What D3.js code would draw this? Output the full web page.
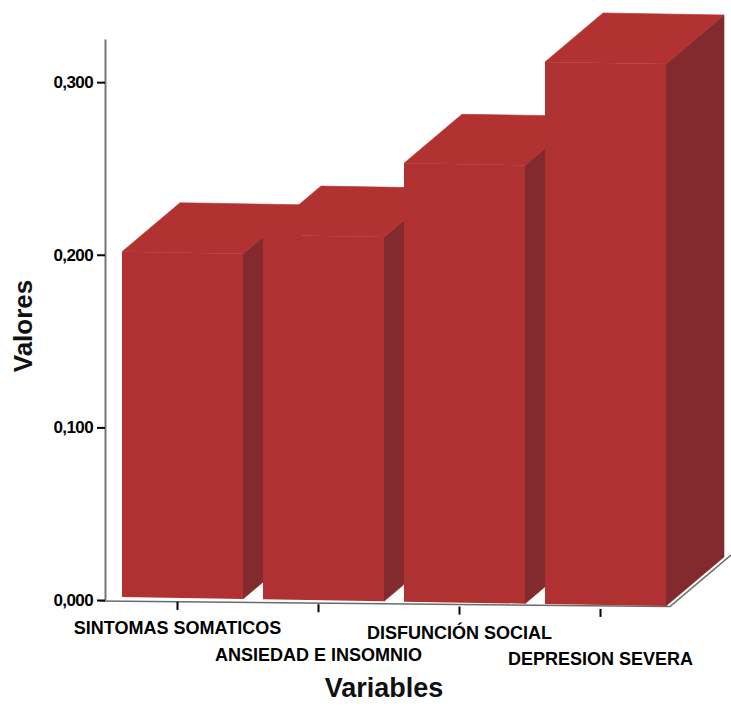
<!DOCTYPE html>
<html><head><meta charset="utf-8">
<script src="https://cdn.jsdelivr.net/npm/d3@7"></script>
<style>body{margin:0;background:#fff}</style></head>
<body><svg id="c" width="731" height="706"></svg>
<script>
// ---- data ----
const categories = ["SINTOMAS SOMATICOS", "ANSIEDAD E INSOMNIO", "DISFUNCIÓN SOCIAL", "DEPRESION SEVERA"];
const values = [0.200, 0.211, 0.254, 0.314];
const yTicks = [0, 0.1, 0.2, 0.3];
const yTitle = "Valores";
const xTitle = "Variables";

// ---- layout ----
const svg = d3.select("#c");
const font = "'Liberation Sans', Arial, sans-serif";
const FRONT = "#b03131", TOP = "#b23232", SIDE = "#822a2d";
const depthX = 58, depthY = -49;

const x = d3.scaleBand().domain(categories).range([122, 666]).paddingInner(20 / 141).paddingOuter(0);
const y = d3.scaleLinear().domain([0, 0.325]).range([600, 39]);
const tilt = 0.0165;
const floorY = px => y(0) - 3 + (px - 122) * tilt;

// floor line
const floorPts = [[100, y(0) + 1], [670, floorY(670) + 0.5], [731, floorY(670) - 51]];
svg.append("path").attr("d", d3.line()(floorPts)).attr("fill", "none")
  .attr("stroke", "#6a6a6a").attr("stroke-width", 1.6);

// bars
const data = categories.map((c, i) => ({ c, v: values[i] }));
data.forEach(d => {
  const x0 = x(d.c), x1 = x0 + x.bandwidth();
  const b0 = floorY(x0), b1 = floorY(x1);
  const h = y(0) - y(d.v);
  const t0 = b0 - h, t1 = b1 - h;
  const g = svg.append("g");
  // side
  g.append("path").attr("fill", SIDE).attr("stroke", SIDE).attr("stroke-width", 0.6).attr("d", d3.line()([
    [x1, t1], [x1 + depthX, t1 + depthY], [x1 + depthX, b1 + depthY], [x1, b1]
  ]) + "Z");
  // top
  g.append("path").attr("fill", TOP).attr("stroke", TOP).attr("stroke-width", 0.6).attr("d", d3.line()([
    [x0, t0], [x0 + depthX, t0 + depthY], [x1 + depthX, t1 + depthY], [x1, t1]
  ]) + "Z");
  // front
  g.append("path").attr("fill", FRONT).attr("d", d3.line()([
    [x0, t0], [x1, t1], [x1, b1], [x0, b0]
  ]) + "Z");
});

// y axis
const yAxis = svg.append("g").attr("transform", "translate(105,0)")
  .call(d3.axisLeft(y).tickValues(yTicks).tickSize(8).tickSizeOuter(0).tickPadding(4)
    .tickFormat(d => d.toFixed(3).replace(".", ",")));
yAxis.select(".domain").attr("stroke", "#777").attr("stroke-width", 2);
yAxis.selectAll(".tick line").attr("stroke", "#000").attr("stroke-width", 2);
yAxis.selectAll(".tick text").attr("font-family", font).attr("font-size", 17)
  .attr("font-weight", "bold").attr("fill", "#000").attr("letter-spacing", -0.6);

// x ticks and labels
data.forEach((d, i) => {
  const cx = x(d.c) + x.bandwidth() / 2 - 5;
  const fy = floorY(cx);
  svg.append("line").attr("x1", cx).attr("x2", cx).attr("y1", fy + 4).attr("y2", fy + 12)
    .attr("stroke", "#000").attr("stroke-width", 2);
  svg.append("text").attr("x", cx).attr("y", fy + (i % 2 === 0 ? 36.5 : 60.5))
    .attr("text-anchor", "middle").attr("font-family", font).attr("font-size", 18)
    .attr("font-weight", "bold").attr("fill", "#000").text(d.c);
});

// titles
svg.append("text").attr("transform", "translate(32,326) rotate(-90)")
  .attr("text-anchor", "middle").attr("font-family", font).attr("font-size", 26)
  .attr("font-weight", "bold").attr("fill", "#111").text(yTitle);
svg.append("text").attr("x", 384).attr("y", 697)
  .attr("text-anchor", "middle").attr("font-family", font).attr("font-size", 27)
  .attr("font-weight", "bold").attr("fill", "#111").text(xTitle);
</script></body></html>
